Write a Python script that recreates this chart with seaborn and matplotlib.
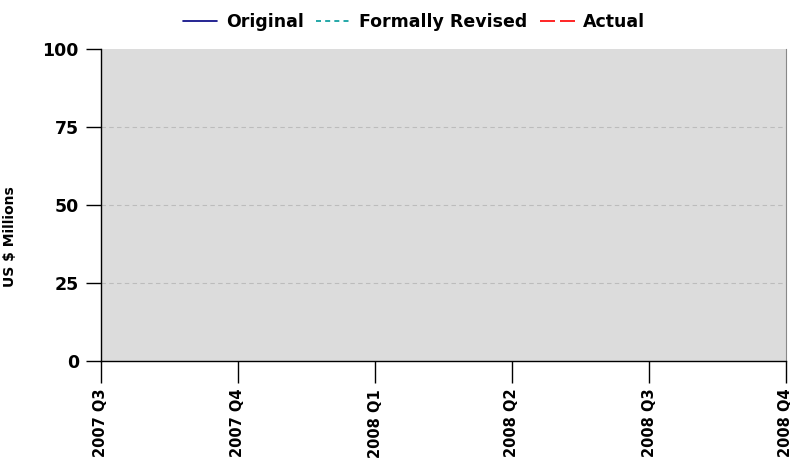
import matplotlib
matplotlib.use("Agg")
import matplotlib.pyplot as plt
import seaborn as sns
import pandas as pd

quarters = ["2007 Q3", "2007 Q4", "2008 Q1", "2008 Q2", "2008 Q3", "2008 Q4"]
original = []
formally_revised = []
actual = []
y_ticks = [0, 25, 50, 75, 100]

sns.set_theme(style="white")
plt.rcParams['font.family'] = ['DejaVu Sans']
plt.rcParams['text.color'] = 'black'
plt.rcParams['xtick.color'] = 'black'
plt.rcParams['ytick.color'] = 'black'
plt.rcParams['axes.labelcolor'] = 'black'

fig = plt.figure(figsize=(7.9, 4.61), dpi=100)
ax = fig.add_axes([101/790, 1-361/461, (786-101)/790, (361-49)/461])
ax.set_facecolor("#dcdcdc")

series = [("Original", original, "#000080", "-"),
          ("Formally Revised", formally_revised, "#009999", (0, (3, 2.5))),
          ("Actual", actual, "#ff0000", (0, (9, 3)))]
for name, vals, col, ls in series:
    df = pd.DataFrame({"q": list(range(len(vals))), "v": vals})
    ax.plot(df["q"], df["v"], color=col, linestyle=ls, linewidth=1.2, label=name)

ax.set_xlim(0, len(quarters) - 1)
ax.set_ylim(0, 100)
ax.set_xticks(range(len(quarters)))
ax.set_xticklabels(quarters, rotation=90, fontsize=10.5, fontweight="bold", va="top")
ax.set_yticks(y_ticks)
ax.set_yticklabels([str(t) for t in y_ticks], fontsize=12.5, fontweight="bold")
ax.yaxis.grid(True, color="#bcbcbc", linestyle=(0, (4, 3)), linewidth=0.8)
for tick_val, gl in zip(y_ticks, ax.yaxis.get_gridlines()):
    if tick_val in (0, 100):
        gl.set_visible(False)
ax.xaxis.grid(False)
ax.tick_params(axis="x", length=16, width=1, color="black", pad=4, bottom=True)
ax.tick_params(axis="y", length=11, width=1, color="black", pad=5, left=True)
for s in ["left", "bottom"]:
    ax.spines[s].set_color("black")
    ax.spines[s].set_linewidth(1)
ax.spines["right"].set_color("#888888")
ax.spines["right"].set_linewidth(0.8)
ax.spines["top"].set_visible(False)

ax.set_ylabel("US $ Millions", fontsize=10, fontweight="bold")
ax.yaxis.set_label_coords((17-101)/685, (361-237)/312)

handles, labels = ax.get_legend_handles_labels()
fig.legend(handles, labels, loc="center", bbox_to_anchor=(414/790, 1-22/461), ncol=3,
           frameon=False, prop={"weight": "bold", "size": 12.5}, handlelength=2.0,
           columnspacing=0.7, handletextpad=0.5)

fig.savefig("out.png", dpi=100)
